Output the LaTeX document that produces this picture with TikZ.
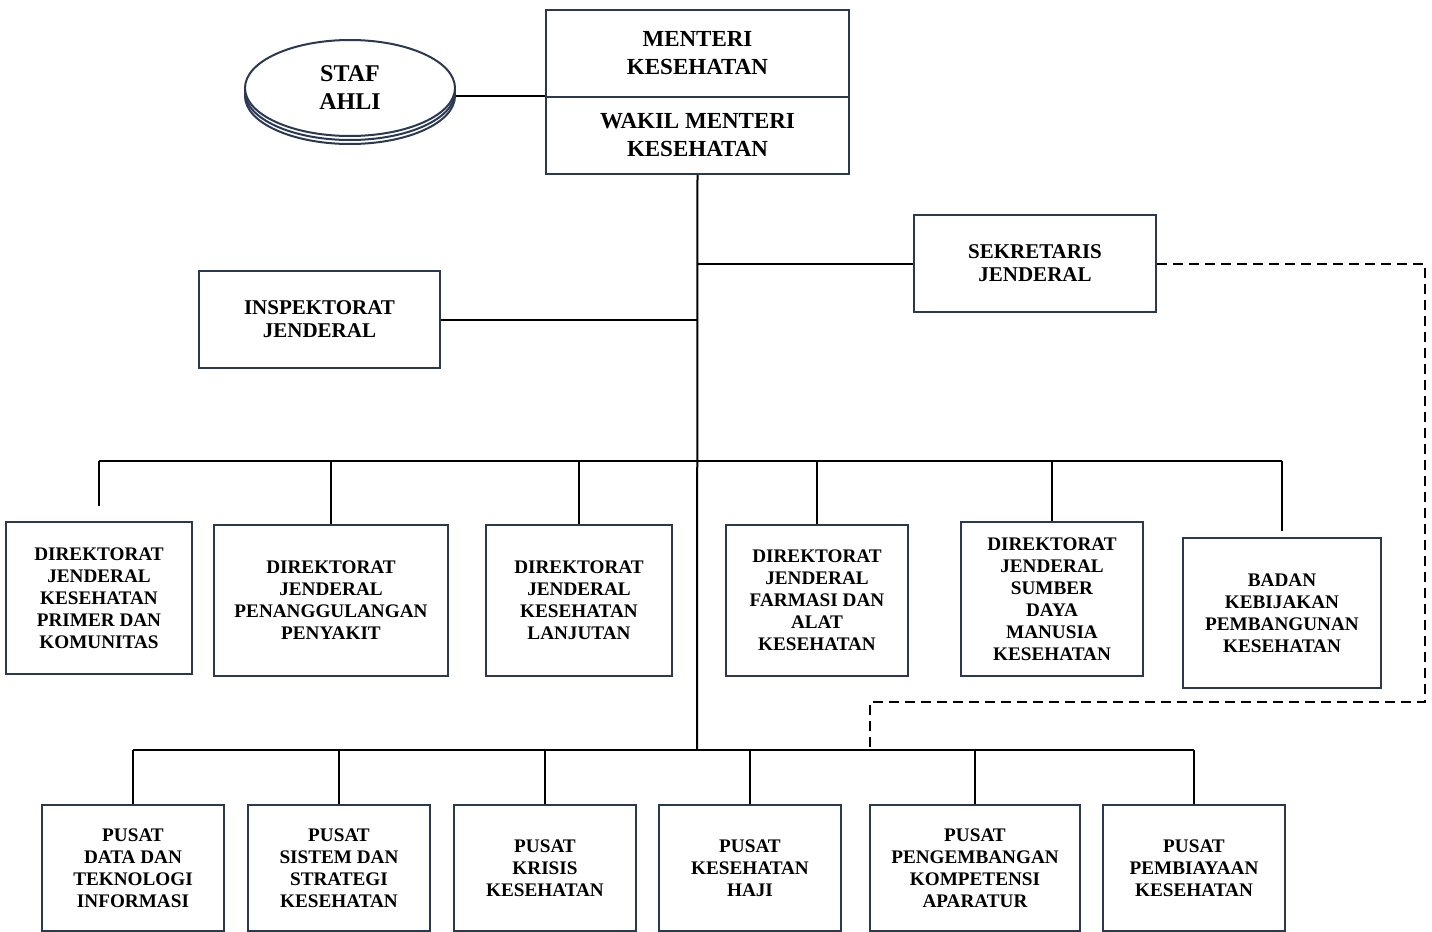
\documentclass[tikz,border=0pt]{standalone}
\usepackage{fontspec}
\setmainfont{Liberation Serif}
\usetikzlibrary{shapes,arrows,positioning,fit}

\definecolor{boxline}{RGB}{43,56,82}

\begin{document}
\begin{tikzpicture}[
        x=0.5pt, y=-0.5pt,
        unit/.style = {rectangle, draw=boxline, line width=1.2pt, fill=white, inner sep=0pt,
            align=center, font=\bfseries\fontsize{9.6}{11}\selectfont},
        top unit/.style = {unit, font=\bfseries\fontsize{11.5}{14}\selectfont},
        mid unit/.style = {unit, font=\bfseries\fontsize{10.5}{11.5}\selectfont},
        staf unit/.style = {ellipse, draw=boxline, line width=1pt, fill=white, inner sep=0pt,
            minimum width=105pt, minimum height=48pt, align=center,
            font=\bfseries\fontsize{12}{14}\selectfont},
        link/.style = {line width=1pt}
    ]
    \useasboundingbox (0,0) rectangle (1432,932);

    %nodes
    \node [top unit, minimum width=151.5pt, minimum height=43.5pt] (menkes) at (697.5,53.5) {MENTERI\\KESEHATAN};
    \node [top unit, minimum width=151.5pt, minimum height=38.5pt] (wamen) at (697.5,135.5) {WAKIL MENTERI\\KESEHATAN};
    \node [staf unit] (staf3) at (350,96) {};
    \node [staf unit] (staf2) at (350,92) {};
    \node [staf unit] (staf) at (350,88) {STAF\\AHLI};
    \node [mid unit, minimum width=121pt, minimum height=48.5pt] (sekjen) at (1035,263.5) {SEKRETARIS\\JENDERAL};
    \node [mid unit, minimum width=120.5pt, minimum height=48.5pt] (itjen) at (319.5,319.5) {INSPEKTORAT\\JENDERAL};

    \node [unit, minimum width=93pt, minimum height=76pt] (dj1) at (99,598) {DIREKTORAT\\JENDERAL\\KESEHATAN\\PRIMER DAN\\KOMUNITAS};
    \node [unit, minimum width=117pt, minimum height=75.5pt] (dj2) at (331,600.5) {DIREKTORAT\\JENDERAL\\PENANGGULANGAN\\PENYAKIT};
    \node [unit, minimum width=93pt, minimum height=75.5pt] (dj3) at (579,600.5) {DIREKTORAT\\JENDERAL\\KESEHATAN\\LANJUTAN};
    \node [unit, minimum width=91pt, minimum height=75.5pt] (dj4) at (817,600.5) {DIREKTORAT\\JENDERAL\\FARMASI DAN\\ALAT\\KESEHATAN};
    \node [unit, minimum width=91pt, minimum height=77pt] (dj5) at (1052,599) {DIREKTORAT\\JENDERAL\\SUMBER\\DAYA\\MANUSIA\\KESEHATAN};
    \node [unit, minimum width=99pt, minimum height=75pt] (badan) at (1282,613) {BADAN\\KEBIJAKAN\\PEMBANGUNAN\\KESEHATAN};

    \node [unit, minimum width=91pt, minimum height=63pt] (p1) at (133,868) {PUSAT\\DATA DAN\\TEKNOLOGI\\INFORMASI};
    \node [unit, minimum width=91pt, minimum height=63pt] (p2) at (339,868) {PUSAT\\SISTEM DAN\\STRATEGI\\KESEHATAN};
    \node [unit, minimum width=91pt, minimum height=63pt] (p3) at (545,868) {PUSAT\\KRISIS\\KESEHATAN};
    \node [unit, minimum width=91pt, minimum height=63pt] (p4) at (750,868) {PUSAT\\KESEHATAN\\HAJI};
    \node [unit, minimum width=105pt, minimum height=63pt] (p5) at (975,868) {PUSAT\\PENGEMBANGAN\\KOMPETENSI\\APARATUR};
    \node [unit, minimum width=91pt, minimum height=63pt] (p6) at (1194,868) {PUSAT\\PEMBIAYAAN\\KESEHATAN};

    % bus points
    \coordinate (bus1) at (697,461);
    \coordinate (bus2) at (697,750);
    \coordinate (dash1) at (1425,702);
    \coordinate (dash2) at (870,702);

    % lines
    \draw[link] (staf.east |- wamen.north west) -- (wamen.north west);
    \draw[link] (wamen.south) -- (bus2);
    \draw[link] (sekjen.west) -- (sekjen.west -| wamen.south);
    \draw[link] (itjen.east) -- (itjen.east -| wamen.south);

    \draw[link] (dj1.north |- bus1) -- (badan.north |- bus1);
    \draw[link] (dj1.north |- bus1) -- ([yshift=7.5pt]dj1.north);
    \draw[link] (badan.north |- bus1) -- ([yshift=3pt]badan.north);
    \foreach \n in {dj2,dj3,dj4,dj5}
        \draw[link] (\n.north) -- (\n.north |- bus1);

    \draw[link] (p1.north |- bus2) -- (p6.north |- bus2);
    \foreach \n in {p1,p2,p3,p4,p5,p6}
        \draw[link] (\n.north) -- (\n.north |- bus2);

    \draw[link, dash pattern=on 5pt off 3pt] (sekjen.east) -| (dash1) -- (dash2) -- (dash2 |- bus2);

\end{tikzpicture}
\end{document}
